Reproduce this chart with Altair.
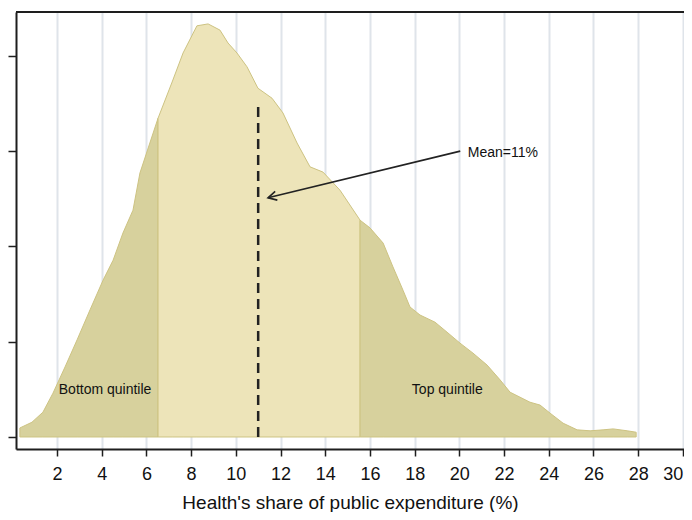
import altair as alt
import pandas as pd

# Health's share of public expenditure (%) vs. estimated density
share = [0.34, 0.88, 1.37, 1.82, 2.36, 2.90, 3.48, 4.06, 4.51, 4.95, 5.40, 5.71,
         6.52, 7.15, 7.64, 8.26, 8.76, 9.29, 9.65, 10.05, 10.50, 10.99, 11.62,
         12.11, 12.74, 13.32, 13.90, 14.66, 15.56, 16.00, 16.59, 17.03, 17.48,
         17.79, 18.24, 18.91, 19.45, 20.03, 20.61, 21.24, 21.82, 22.27, 23.16,
         23.61, 24.06, 24.64, 25.27, 25.85, 26.43, 26.88, 27.51, 27.91]
density = [0.0019, 0.0031, 0.0052, 0.0092, 0.0147, 0.0204, 0.0267, 0.0329, 0.0371,
           0.0428, 0.0476, 0.0554, 0.0669, 0.0745, 0.0806, 0.0863, 0.0867, 0.0854,
           0.0827, 0.0806, 0.0777, 0.0732, 0.0711, 0.0680, 0.0617, 0.0567, 0.0556,
           0.0518, 0.0455, 0.0439, 0.0407, 0.0357, 0.0308, 0.0273, 0.0256, 0.0241,
           0.0220, 0.0197, 0.0176, 0.0151, 0.0120, 0.0094, 0.0073, 0.0067, 0.0050,
           0.0029, 0.0015, 0.0013, 0.0015, 0.0017, 0.0013, 0.0010]

bottom_cut = 6.52
top_cut = 15.56
mean_value = 11.0
mean_line_top = 0.0701

x_ticks = [2, 4, 6, 8, 10, 12, 14, 16, 18, 20, 22, 24, 26, 28, 30]
y_ticks = [0, 0.02, 0.04, 0.06, 0.08]

quintile_labels = ["Bottom quintile", "Top quintile"]
quintile_x = [4.15, 19.46]
quintile_y = [0.0099, 0.0099]

mean_label = ["Mean=11%"]
mean_label_x = [20.38]
mean_label_y = [0.0596]
arrow_from = (20.04, 0.0600)
arrow_to = (11.44, 0.0502)

W, H = 668, 437
X_DOM = [0.166, 30.05]
Y_DOM = [-0.00252, 0.0892]

df = pd.DataFrame({"share": share, "density": density})
seg_bottom = df[df.share <= bottom_cut]
seg_mid = df[(df.share >= bottom_cut) & (df.share <= top_cut)]
seg_top = df[df.share >= top_cut]

xs = alt.Scale(domain=X_DOM, nice=False, zero=False)
ys = alt.Scale(domain=Y_DOM, nice=False, zero=False)

x_axis = alt.Axis(values=x_ticks, title="Health's share of public expenditure (%)",
                  grid=True, gridColor="#dfe4ea", gridWidth=2,
                  domainColor="#1e1e1e", domainWidth=2,
                  tickColor="#1e1e1e", tickWidth=1.5, tickSize=7,
                  labelFontSize=18, labelColor="#111", labelPadding=9,
                  titleFontSize=19, titleFontWeight="normal", titleColor="#111",
                  titlePadding=10, labelFlush=5, labelOverlap=False)
y_axis = alt.Axis(values=y_ticks, labels=False, title=None, grid=False,
                  domainColor="#1e1e1e", domainWidth=2,
                  tickColor="#1e1e1e", tickWidth=1.5, tickSize=8)


def area(d, fill):
    return alt.Chart(d).mark_area(fill=fill, stroke="#cdc382", strokeWidth=1,
                                  opacity=1).encode(
        x=alt.X("share:Q", scale=xs, axis=x_axis),
        y=alt.Y("density:Q", scale=ys, axis=y_axis),
        y2=alt.datum(0),
    )


a_bottom = area(seg_bottom, "#d7d19d")
a_mid = area(seg_mid, "#ede4b9")
a_top = area(seg_top, "#d7d19d")

mean_df = pd.DataFrame({"x": [mean_value], "y0": [0.0], "y1": [mean_line_top]})
mean_rule = alt.Chart(mean_df).mark_rule(color="#222", strokeWidth=2.5,
                                         strokeDash=[10, 6]).encode(
    x="x:Q", y="y0:Q", y2="y1:Q")

arrow_df = pd.DataFrame({"x": [arrow_from[0]], "y": [arrow_from[1]],
                         "x2": [arrow_to[0]], "y2": [arrow_to[1]]})
arrow_line = alt.Chart(arrow_df).mark_rule(color="#222", strokeWidth=1.6).encode(
    x="x:Q", y="y:Q", x2="x2:Q", y2="y2:Q")
head_df = pd.DataFrame({"x": [arrow_to[0]], "y": [arrow_to[1]]})
arrow_head = alt.Chart(head_df).mark_point(
    shape="M-1.7,-0.9L0,0L-1.7,0.9", filled=False, stroke="#222",
    strokeWidth=1.6, size=100, angle=166, opacity=1).encode(x="x:Q", y="y:Q")

q_df = pd.DataFrame({"t": quintile_labels, "x": quintile_x, "y": quintile_y})
q_text = alt.Chart(q_df).mark_text(fontSize=14, color="#111", align="center",
                                   baseline="middle").encode(
    x="x:Q", y="y:Q", text="t:N")

m_df = pd.DataFrame({"t": mean_label, "x": mean_label_x, "y": mean_label_y})
m_text = alt.Chart(m_df).mark_text(fontSize=14, color="#111", align="left",
                                   baseline="middle").encode(
    x="x:Q", y="y:Q", text="t:N")

top_border = alt.Chart(head_df).mark_rule(color="#1e1e1e", strokeWidth=2).encode(
    x=alt.value(0), x2=alt.value(W), y=alt.value(0))

chart = alt.layer(a_bottom, a_mid, a_top, mean_rule, arrow_line, arrow_head,
                  q_text, m_text, top_border).properties(
    width=W, height=H,
    autosize=alt.AutoSizeParams(type="none"),
    padding={"left": 8, "top": 4, "right": 0, "bottom": 63},
    background="white",
).configure_view(stroke=None).configure(font="Liberation Sans")

chart.save("out.html", embed_options={"renderer": "svg", "actions": False})
